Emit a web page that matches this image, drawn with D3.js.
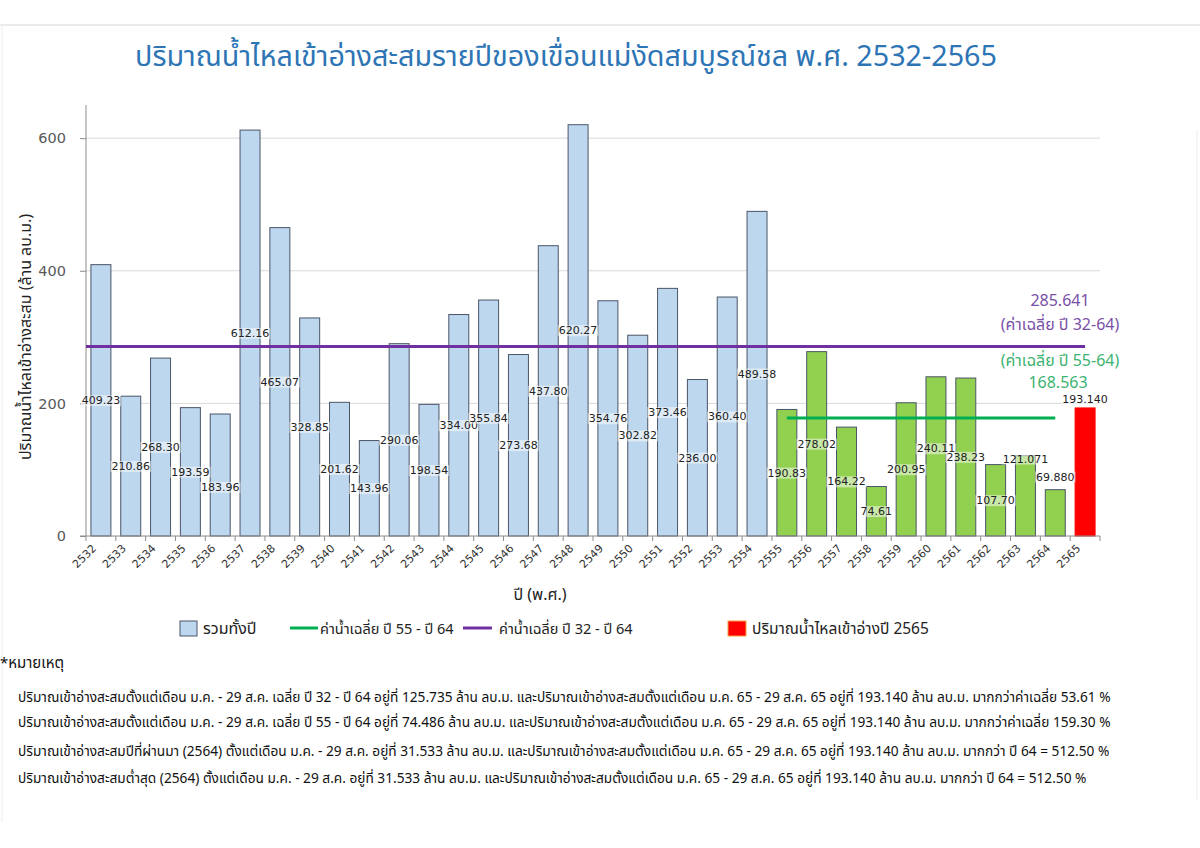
<!DOCTYPE html>
<html>
<head>
<meta charset="utf-8">
<script src="https://cdn.jsdelivr.net/npm/d3@7"></script>
<style>
  body { margin: 0; background: #fff; }
  text { font-family: Tahoma, "Noto Sans Thai", "Noto Sans", "DejaVu Sans", sans-serif; }
</style>
</head>
<body>
<div id="chart"></div>
<script>
// inflow per year (million m3)
const years = ["2532","2533","2534","2535","2536","2537","2538","2539","2540","2541",
  "2542","2543","2544","2545","2546","2547","2548","2549","2550","2551",
  "2552","2553","2554","2555","2556","2557","2558","2559","2560","2561",
  "2562","2563","2564","2565"];
const inflow = [409.23, 210.86, 268.30, 193.59, 183.96, 612.16, 465.07, 328.85, 201.62, 143.96,
  290.06, 198.54, 334.00, 355.84, 273.68, 437.80, 620.27, 354.76, 302.82, 373.46,
  236.00, 360.40, 489.58, 190.83, 278.02, 164.22, 74.61, 200.95, 240.11, 238.23,
  107.70, 121.071, 69.880, 193.140];
const yTicks = [0, 200, 400, 600];

// averages
const avg32_64 = 285.641;
const avg55_64 = 168.563;
const avg55_64Drawn = 178; // the green line sits here in the original picture

const notes = [
  "ปริมาณเข้าอ่างสะสมตั้งแต่เดือน ม.ค. - 29 ส.ค. เฉลี่ย ปี 32 - ปี 64 อยู่ที่ 125.735 ล้าน ลบ.ม. และปริมาณเข้าอ่างสะสมตั้งแต่เดือน ม.ค. 65 - 29 ส.ค. 65 อยู่ที่ 193.140 ล้าน ลบ.ม. มากกว่าค่าเฉลี่ย 53.61 %",
  "ปริมาณเข้าอ่างสะสมตั้งแต่เดือน ม.ค. - 29 ส.ค. เฉลี่ย ปี 55 - ปี 64 อยู่ที่ 74.486 ล้าน ลบ.ม. และปริมาณเข้าอ่างสะสมตั้งแต่เดือน ม.ค. 65 - 29 ส.ค. 65 อยู่ที่ 193.140 ล้าน ลบ.ม. มากกว่าค่าเฉลี่ย 159.30 %",
  "ปริมาณเข้าอ่างสะสมปีที่ผ่านมา (2564) ตั้งแต่เดือน ม.ค. - 29 ส.ค. อยู่ที่ 31.533 ล้าน ลบ.ม. และปริมาณเข้าอ่างสะสมตั้งแต่เดือน ม.ค. 65 - 29 ส.ค. 65 อยู่ที่ 193.140 ล้าน ลบ.ม. มากกว่า ปี 64 = 512.50 %",
  "ปริมาณเข้าอ่างสะสมต่ำสุด (2564) ตั้งแต่เดือน ม.ค. - 29 ส.ค. อยู่ที่ 31.533 ล้าน ลบ.ม. และปริมาณเข้าอ่างสะสมตั้งแต่เดือน ม.ค. 65 - 29 ส.ค. 65 อยู่ที่ 193.140 ล้าน ลบ.ม. มากกว่า ปี 64 = 512.50 %"
];

const width = 1200, height = 848;
const plotLeft = 86, plotRight = 1100, plotTop = 105, plotBottom = 536;

const svg = d3.select("#chart").append("svg")
  .attr("width", width)
  .attr("height", height);

// page frame
svg.append("line").attr("x1", 0).attr("x2", width).attr("y1", 25).attr("y2", 25)
  .attr("stroke", "#e4e4e4").attr("stroke-width", 1.5);
svg.append("line").attr("x1", 2).attr("x2", 2).attr("y1", 25).attr("y2", 822)
  .attr("stroke", "#ececec");
svg.append("line").attr("x1", 1197).attr("x2", 1197).attr("y1", 130).attr("y2", 800)
  .attr("stroke", "#ececec");

// title
svg.append("text")
  .attr("x", 566).attr("y", 66)
  .attr("text-anchor", "middle")
  .attr("fill", "#2e75b6")
  .style("font-size", "28.7px")
  .text("ปริมาณน้ำไหลเข้าอ่างสะสมรายปีของเขื่อนแม่งัดสมบูรณ์ชล พ.ศ. 2532-2565");

const x = d3.scaleBand()
  .domain(years)
  .range([plotLeft, plotRight])
  .paddingInner(0.33)
  .paddingOuter(0.165);

const y = d3.scaleLinear()
  .domain([0, 650])
  .range([plotBottom, plotTop]);

const colorOf = yr => +yr >= 2565 ? "#ff0000" : (+yr >= 2555 ? "#92d050" : "#bdd7ee");

// gridlines
svg.append("g")
  .selectAll("line")
  .data(yTicks.filter(d => d > 0))
  .join("line")
    .attr("x1", plotLeft).attr("x2", plotRight)
    .attr("y1", d => y(d)).attr("y2", d => y(d))
    .attr("stroke", "#d9d9d9");

// y axis
const yAxis = svg.append("g")
  .attr("transform", `translate(${plotLeft},0)`)
  .call(d3.axisLeft(y).tickValues(yTicks).tickSize(6).tickPadding(14));
yAxis.select(".domain").attr("stroke", "#8c8c8c").attr("d", `M0,${plotTop}V${plotBottom}`);
yAxis.selectAll(".tick line").attr("stroke", "#8c8c8c");
yAxis.selectAll(".tick text")
  .attr("fill", "#595959")
  .style("font-size", "14.5px")
  .style("font-family", "'DejaVu Sans', sans-serif");

svg.append("text")
  .attr("transform", `translate(31, 337) rotate(-90)`)
  .attr("text-anchor", "middle")
  .attr("fill", "#222")
  .style("font-size", "16px")
  .text("ปริมาณน้ำไหลเข้าอ่างสะสม (ล้าน ลบ.ม.)");

// bars
svg.append("g")
  .selectAll("rect")
  .data(years)
  .join("rect")
    .attr("x", d => x(d))
    .attr("y", (d, i) => y(inflow[i]))
    .attr("width", x.bandwidth())
    .attr("height", (d, i) => y(0) - y(inflow[i]))
    .attr("fill", d => colorOf(d))
    .attr("stroke", d => +d >= 2565 ? "#ff0000" : "#4a5568")
    .attr("stroke-width", 1);

// x axis
const step = x.step();
const xAxisG = svg.append("g").attr("transform", `translate(0,${plotBottom})`);
xAxisG.append("line")
  .attr("x1", plotLeft - 6).attr("x2", plotRight)
  .attr("stroke", "#8c8c8c");
xAxisG.selectAll(".tk")
  .data(years.concat(["end"]))
  .join("line")
    .attr("class", "tk")
    .attr("x1", (d, i) => plotLeft + i * step)
    .attr("x2", (d, i) => plotLeft + i * step)
    .attr("y1", 0).attr("y2", 5)
    .attr("stroke", "#8c8c8c");
xAxisG.selectAll(".lbl")
  .data(years)
  .join("text")
    .attr("class", "lbl")
    .attr("transform", d => `translate(${x(d) + x.bandwidth() / 2 - 4},${13}) rotate(-45)`)
    .attr("text-anchor", "end")
    .attr("fill", "#333")
    .style("font-size", "11px")
    .style("font-family", "'DejaVu Sans', sans-serif")
    .text(d => d);

svg.append("text")
  .attr("x", 540).attr("y", 600)
  .attr("text-anchor", "middle")
  .attr("fill", "#222")
  .style("font-size", "16px")
  .text("ปี (พ.ศ.)");

// average lines
svg.append("line")
  .attr("x1", plotLeft)
  .attr("x2", x("2565") + x.bandwidth() / 2)
  .attr("y1", y(avg32_64)).attr("y2", y(avg32_64))
  .attr("stroke", "#7030a0")
  .attr("stroke-width", 3);

svg.append("line")
  .attr("x1", x("2555") + x.bandwidth() / 2)
  .attr("x2", x("2564") + x.bandwidth() / 2)
  .attr("y1", y(avg55_64Drawn)).attr("y2", y(avg55_64Drawn))
  .attr("stroke", "#00b050")
  .attr("stroke-width", 3);

// value labels (centred in the bar, a few nudged like the original)
const fmt = (v, yr) => +yr >= 2563 ? d3.format(".3f")(v) : d3.format(".2f")(v);
const labelY = (v, yr) => {
  if (yr === "2565") return y(v) - 9;
  if (yr === "2564") return y(v) - 13;
  if (yr === "2563") return y(v) + 3;
  if (yr === "2560") return (y(v) + y(0)) / 2 - 8;
  if (yr === "2536") return (y(v) + y(0)) / 2 + 12;
  return (y(v) + y(0)) / 2;
};
const labels = svg.append("g")
  .selectAll("g")
  .data(years)
  .join("g")
    .attr("transform", (d, i) => `translate(${x(d) + x.bandwidth() / 2},${labelY(inflow[i], d)})`);
labels.append("text")
  .attr("text-anchor", "middle")
  .attr("dy", "0.35em")
  .attr("fill", "#222")
  .style("font-size", "11px")
  .style("font-family", "'DejaVu Sans', sans-serif")
  .text((d, i) => fmt(inflow[i], d))
  .each(function () {
    const b = this.getBBox();
    d3.select(this.parentNode).insert("rect", "text")
      .attr("x", b.x - 1).attr("y", b.y + 1)
      .attr("width", b.width + 2).attr("height", b.height - 2)
      .attr("fill", "#fff").attr("opacity", 0.5);
  });

// average annotations
svg.append("text").attr("x", 1060).attr("y", 306)
  .attr("text-anchor", "middle").attr("fill", "#7a4fa8")
  .style("font-size", "16px")
  .text(d3.format(".3f")(avg32_64));
svg.append("text").attr("x", 1060).attr("y", 330)
  .attr("text-anchor", "middle").attr("fill", "#7a4fa8")
  .style("font-size", "16px")
  .text("(ค่าเฉลี่ย ปี 32-64)");
svg.append("text").attr("x", 1060).attr("y", 366)
  .attr("text-anchor", "middle").attr("fill", "#3cb371")
  .style("font-size", "16px")
  .text("(ค่าเฉลี่ย ปี 55-64)");
svg.append("text").attr("x", 1058).attr("y", 388)
  .attr("text-anchor", "middle").attr("fill", "#3cb371")
  .style("font-size", "16px")
  .text(d3.format(".3f")(avg55_64));

// legend
const legend = svg.append("g").attr("transform", "translate(0,628)");
legend.append("rect").attr("x", 180).attr("y", -7).attr("width", 17).attr("height", 15)
  .attr("fill", "#bdd7ee").attr("stroke", "#4a5568");
legend.append("text").attr("x", 203).attr("y", 6).style("font-size", "16px").attr("fill", "#222")
  .text("รวมทั้งปี");
legend.append("line").attr("x1", 290).attr("x2", 318).attr("y1", 0).attr("y2", 0)
  .attr("stroke", "#00b050").attr("stroke-width", 3);
legend.append("text").attr("x", 320).attr("y", 6).style("font-size", "14.5px").attr("fill", "#222")
  .text("ค่าน้ำเฉลี่ย ปี 55 - ปี 64");
legend.append("line").attr("x1", 463).attr("x2", 492).attr("y1", 0).attr("y2", 0)
  .attr("stroke", "#7030a0").attr("stroke-width", 3);
legend.append("text").attr("x", 499).attr("y", 6).style("font-size", "14.5px").attr("fill", "#222")
  .text("ค่าน้ำเฉลี่ย ปี 32 - ปี 64");
legend.append("rect").attr("x", 728).attr("y", -7).attr("width", 18).attr("height", 15)
  .attr("fill", "#ff0000").attr("stroke", "#f4a040");
legend.append("text").attr("x", 752).attr("y", 6).style("font-size", "15.5px").attr("fill", "#222")
  .text("ปริมาณน้ำไหลเข้าอ่างปี 2565");

// notes
svg.append("text").attr("x", 0).attr("y", 668)
  .style("font-size", "15px").attr("fill", "#111")
  .text("*หมายเหตุ");
const noteY = [702, 727, 756, 783];
svg.append("g")
  .selectAll("text")
  .data(notes)
  .join("text")
    .attr("x", 18)
    .attr("y", (d, i) => noteY[i])
    .style("font-size", "13.7px")
    .attr("fill", "#111")
    .text(d => d);
</script>
</body>
</html>
